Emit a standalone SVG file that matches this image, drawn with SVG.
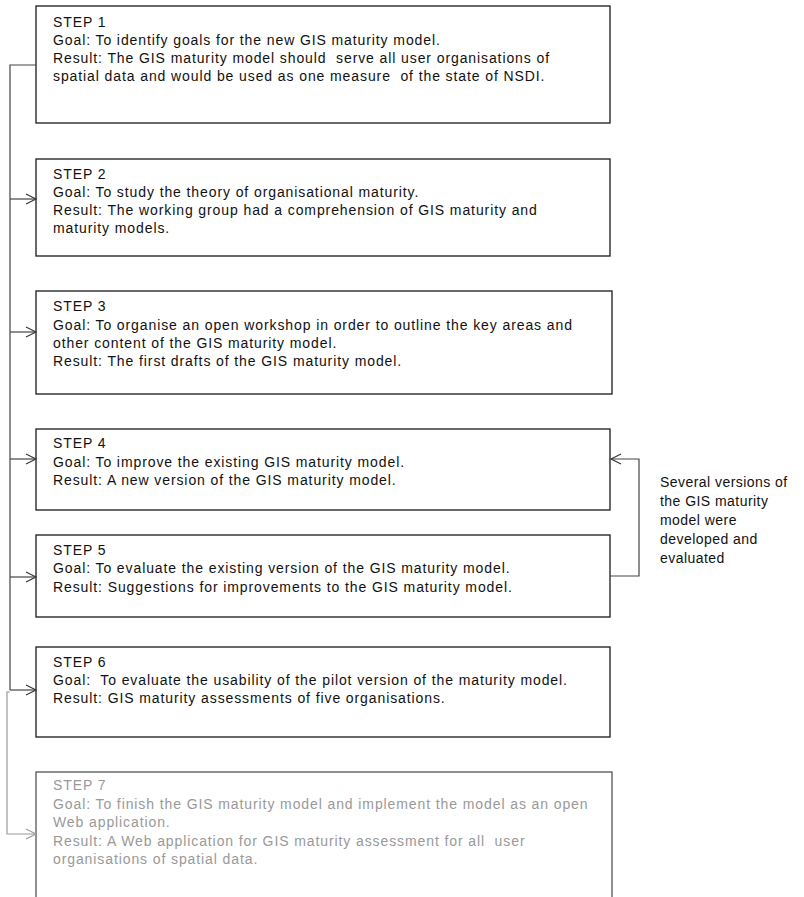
<svg xmlns="http://www.w3.org/2000/svg" width="804" height="897" viewBox="0 0 804 897">
  <style>
    .box { fill: #ffffff; stroke: #1a1a1a; stroke-width: 1.3; }
    .box.faded { stroke: #555555; }
    text { font-family: "Liberation Sans", Arial, sans-serif; font-size: 14px; fill: #111111; letter-spacing: 0.9px; white-space: pre; }
    #note text { letter-spacing: 0.45px; }
    .faded text, text.faded { fill: #999999; }
    .wire { fill: none; stroke: #444444; stroke-width: 1.2; }
    .wire.light { stroke: #9a9a9a; }
    .head { fill: none; stroke: #333333; stroke-width: 1.1; }
    .head.light { stroke: #9a9a9a; }
  </style>
  <defs>
    <!-- open arrowheads, tip at origin -->
    <path id="arrR" d="M -10 -5 L 0 0 L -10 5"/>
    <path id="arrL" d="M 10 -5 L 0 0 L 10 5"/>
  </defs>

  <rect width="804" height="897" fill="#ffffff"/>

  <g id="step1">
    <rect class="box" x="36" y="6" width="574" height="117"/>
    <text x="53" y="27">STEP 1</text>
    <text x="53" y="45">Goal: To identify goals for the new GIS maturity model.</text>
    <text x="53" y="63">Result: The GIS maturity model should  serve all user organisations of</text>
    <text x="53" y="81">spatial data and would be used as one measure  of the state of NSDI.</text>
  </g>

  <g id="step2">
    <rect class="box" x="36" y="159" width="574" height="97"/>
    <text x="53" y="179">STEP 2</text>
    <text x="53" y="197">Goal: To study the theory of organisational maturity.</text>
    <text x="53" y="215">Result: The working group had a comprehension of GIS maturity and</text>
    <text x="53" y="233">maturity models.</text>
  </g>

  <g id="step3">
    <rect class="box" x="36" y="291" width="576" height="103"/>
    <text x="53" y="311">STEP 3</text>
    <text x="53" y="330">Goal: To organise an open workshop in order to outline the key areas and</text>
    <text x="53" y="348">other content of the GIS maturity model.</text>
    <text x="53" y="366">Result: The first drafts of the GIS maturity model.</text>
  </g>

  <g id="step4">
    <rect class="box" x="36" y="429" width="574" height="81"/>
    <text x="53" y="448">STEP 4</text>
    <text x="53" y="467">Goal: To improve the existing GIS maturity model.</text>
    <text x="53" y="485">Result: A new version of the GIS maturity model.</text>
  </g>

  <g id="step5">
    <rect class="box" x="36" y="535" width="574" height="82"/>
    <text x="53" y="555">STEP 5</text>
    <text x="53" y="573">Goal: To evaluate the existing version of the GIS maturity model.</text>
    <text x="53" y="592">Result: Suggestions for improvements to the GIS maturity model.</text>
  </g>

  <g id="step6">
    <rect class="box" x="36" y="647" width="574" height="90"/>
    <text x="53" y="667">STEP 6</text>
    <text x="53" y="685">Goal:  To evaluate the usability of the pilot version of the maturity model.</text>
    <text x="53" y="703">Result: GIS maturity assessments of five organisations.</text>
  </g>

  <g id="step7" class="faded">
    <rect class="box faded" x="36" y="772" width="576" height="140"/>
    <text x="53" y="790">STEP 7</text>
    <text x="53" y="809">Goal: To finish the GIS maturity model and implement the model as an open</text>
    <text x="53" y="827">Web application.</text>
    <text x="53" y="846">Result: A Web application for GIS maturity assessment for all  user</text>
    <text x="53" y="864">organisations of spatial data.</text>
  </g>

  <g id="note">
    <text x="660" y="487">Several versions of</text>
    <text x="660" y="506">the GIS maturity</text>
    <text x="660" y="525">model were</text>
    <text x="660" y="544">developed and</text>
    <text x="660" y="563">evaluated</text>
  </g>

  <g id="connectors">
    <!-- main spine from step 1 down to step 6 -->
    <path class="wire" d="M 36 65 H 10 V 690"/>
    <path class="wire" d="M 10 199 H 36"/>
    <path class="wire" d="M 10 332 H 36"/>
    <path class="wire" d="M 10 459 H 36"/>
    <path class="wire" d="M 10 577 H 36"/>
    <path class="wire" d="M 10 690 H 36"/>
    <use href="#arrR" class="head" x="36" y="199"/>
    <use href="#arrR" class="head" x="36" y="332"/>
    <use href="#arrR" class="head" x="36" y="459"/>
    <use href="#arrR" class="head" x="36" y="577"/>
    <use href="#arrR" class="head" x="36" y="690"/>
    <!-- branch to step 7 -->
    <path class="wire light" d="M 10 692 H 7 V 834 H 36"/>
    <use href="#arrR" class="head light" x="36" y="834"/>
    <!-- iteration loop: step 5 back to step 4 -->
    <path class="wire" d="M 610 576 H 639 V 459 H 611"/>
    <use href="#arrL" class="head" x="611" y="459"/>
  </g>
</svg>
